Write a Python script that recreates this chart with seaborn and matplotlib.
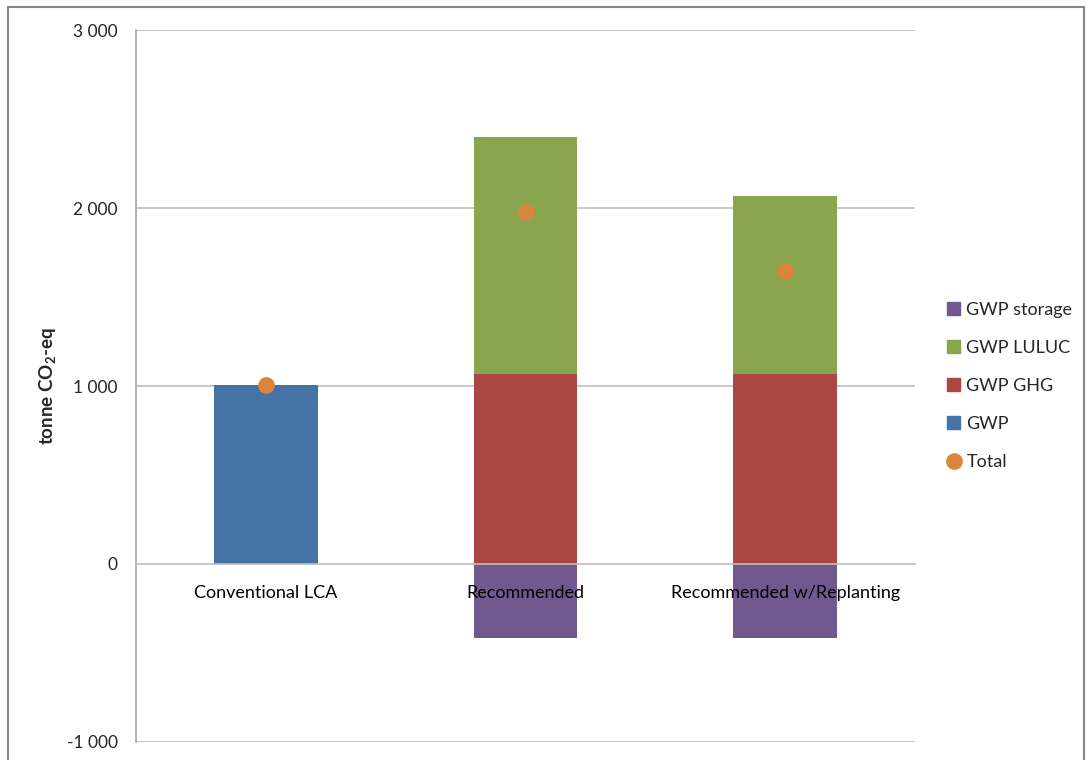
import numpy as np
import pandas as pd
import seaborn as sns
import matplotlib.pyplot as plt
from matplotlib.patches import Patch, Rectangle
from matplotlib.lines import Line2D
from matplotlib.ticker import FuncFormatter

# chart data (tonne CO2-eq)
scenarios = ["Conventional LCA", "Recommended", "Recommended w/Replanting"]
gwp = [1005, 0, 0]
gwp_ghg = [0, 1067, 1067]
gwp_luluc = [0, 1332, 1000]
gwp_storage = [0, -416, -416]
total = [1005, 1980, 1645]

colors = {"GWP": "#4572A7", "GWP GHG": "#AA4643", "GWP LULUC": "#89A54E",
          "GWP storage": "#71588F", "Total": "#DB843D"}

df = pd.DataFrame({"scenario": scenarios, "GWP": gwp, "GWP GHG": gwp_ghg,
                   "GWP LULUC": gwp_luluc, "GWP storage": gwp_storage,
                   "Total": total})

sns.set_style("white")
plt.rcParams["font.family"] = ["Lato", "DejaVu Sans"]
plt.rcParams["mathtext.fontset"] = "custom"
plt.rcParams["mathtext.rm"] = "Lato"
plt.rcParams["mathtext.bf"] = "Lato:bold"

fig = plt.figure(figsize=(10.87, 7.6), dpi=100)
ax = fig.add_axes([0.1251, 0.0237, 0.7167, 0.9368])
ax.set_axisbelow(False)

# grid lines drawn behind the bars
for yv in [-1000, 1000, 2000, 3000]:
    ax.axhline(yv, color="#BEBEBE", lw=1.2, zorder=0)

bw = 0.4
kw = dict(width=bw, saturation=1, linewidth=0, ax=ax, zorder=1)
sns.barplot(data=df, x="scenario", y="GWP", color=colors["GWP"], **kw)
sns.barplot(data=df, x="scenario", y="GWP GHG", color=colors["GWP GHG"], **kw)
sns.barplot(data=df, x="scenario", y="GWP LULUC", bottom=df["GWP GHG"],
            color=colors["GWP LULUC"], **kw)
sns.barplot(data=df, x="scenario", y="GWP storage", color=colors["GWP storage"], **kw)
sns.stripplot(data=df, x="scenario", y="Total", jitter=False, size=12,
              color=colors["Total"], linewidth=0, ax=ax, zorder=4)

ax.set_xlim(-0.5, 2.5)
ax.set_ylim(-1000, 3000)
ax.set_yticks([-1000, 0, 1000, 2000, 3000])
ax.yaxis.set_major_formatter(FuncFormatter(lambda v, p: f"{int(v):,}".replace(",", " ")))

# axes styling
for s in ["top", "right"]:
    ax.spines[s].set_visible(False)
ax.spines["bottom"].set_position(("data", 0))
ax.spines["bottom"].set_color("#BEBEBE")
ax.spines["bottom"].set_linewidth(1.2)
ax.spines["left"].set_color("#A6A6A6")
ax.spines["left"].set_linewidth(1.2)
ax.set_xticks(range(len(scenarios)))
ax.set_xticklabels(scenarios)
ax.set_xticks([0.5, 1.5, 2.5], minor=True)
ax.tick_params(axis="x", which="major", length=0, pad=15, labelsize=13, colors="#000000")
ax.tick_params(axis="x", which="minor", length=5, direction="out", color="#BEBEBE", width=1.2)
ax.tick_params(axis="y", length=6, direction="out", color="#A6A6A6", width=1.2,
               labelsize=12.5, pad=7)
ax.set_xlabel("")
ax.set_ylabel(r"tonne CO$_\mathregular{2}$-eq", fontsize=13.5, fontweight="bold")
ax.yaxis.set_label_coords(-0.099, 0.5)

handles = [Patch(color=colors[k]) for k in ["GWP storage", "GWP LULUC", "GWP GHG", "GWP"]]
handles.append(Line2D([], [], marker="o", ls="", color=colors["Total"], markersize=11))
ax.legend(handles, ["GWP storage", "GWP LULUC", "GWP GHG", "GWP", "Total"],
          loc="center left", bbox_to_anchor=(0.865, 0.492), bbox_transform=fig.transFigure,
          frameon=False, fontsize=13, handlelength=0.7, handleheight=0.7,
          handletextpad=0.35, labelspacing=1.22, borderaxespad=0)

# outer chart frame
fig.patches.append(Rectangle((0.0074, -0.05), 0.99, 1.041, transform=fig.transFigure,
                             fill=False, edgecolor="#868686", lw=1.5))

fig.savefig("out.png", dpi=100)
